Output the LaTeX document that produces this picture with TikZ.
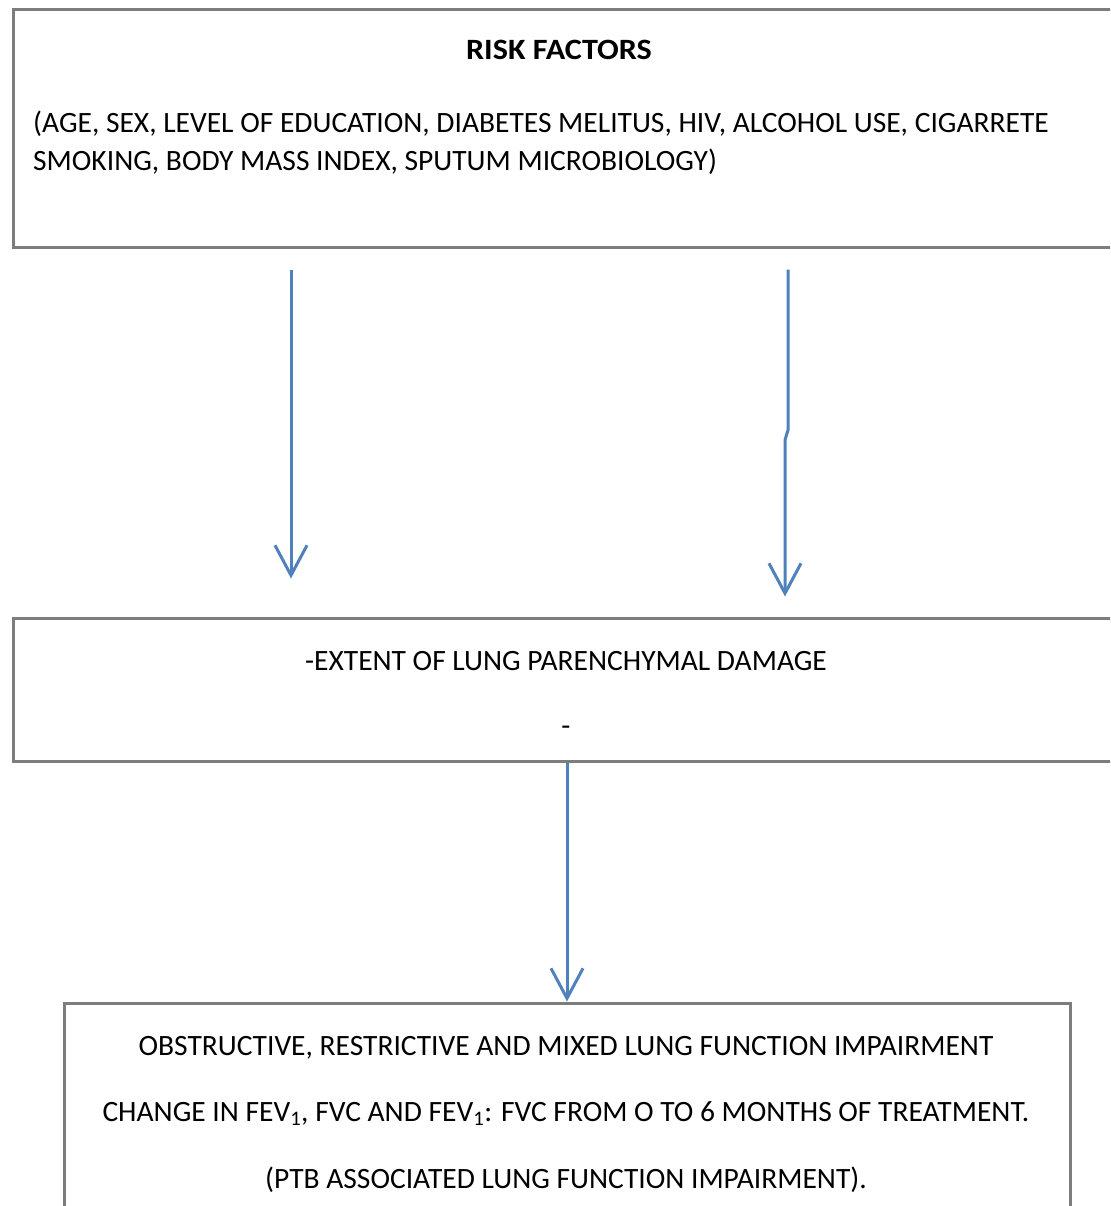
\documentclass[tikz,border=0pt]{standalone}
\usepackage{fontspec}
\setmainfont{Carlito}
\usetikzlibrary{arrows.meta}
\definecolor{boxgray}{RGB}{125,125,125}
\definecolor{arrblue}{RGB}{79,129,189}
\begin{document}
\begin{tikzpicture}[x=1pt,y=-1pt,
  box/.style={draw=boxgray, line width=3pt, fill=white, inner sep=0pt},
  txt/.style={inner sep=0pt, font=\fontsize{29.5}{34}\selectfont},
  arr/.style={draw=arrblue, line width=3pt, -{Straight Barb[length=30pt,width=32pt,line width=3pt]}}]
\useasboundingbox (0,0) rectangle (1110,1206);
\clip (0,0) rectangle (1110,1206);
\fill[white] (0,0) rectangle (1110,1206);
% boxes
\node[box, minimum width=1112pt, minimum height=237pt] (top) at (569,128.5) {};
\node[box, minimum width=1112pt, minimum height=143pt] (mid) at (569,689.5) {};
\node[box, minimum width=1006pt, minimum height=227pt] (bot) at (567,1116.5) {};
% texts
\node[txt, anchor=base, font=\fontsize{29.5}{34}\selectfont\bfseries] (t1) at (559,60) {\scalebox{1.09}[1]{RISK FACTORS}};
\node[txt, anchor=base west] (t2) at (33,133) {(AGE, SEX, LEVEL OF EDUCATION, DIABETES MELITUS, HIV, ALCOHOL USE, CIGARRETE};
\node[txt, anchor=base west] (t3) at (33,171) {SMOKING, BODY MASS INDEX, SPUTUM MICROBIOLOGY)};
\node[txt, anchor=base] (m1) at (566,670) {-EXTENT OF LUNG PARENCHYMAL DAMAGE};
\node[txt, anchor=base] (m2) at (566,735) {-};
\node[txt, anchor=base] (b1) at (566,1055) {OBSTRUCTIVE, RESTRICTIVE AND MIXED LUNG FUNCTION IMPAIRMENT};
\node[txt, anchor=base] (b2) at (566,1121) {CHANGE IN FEV\textsubscript{1}, FVC AND FEV\textsubscript{1}: FVC FROM O TO 6 MONTHS OF TREATMENT.};
\node[txt, anchor=base] (b3) at (566,1188) {(PTB ASSOCIATED LUNG FUNCTION IMPAIRMENT).};
% arrows
\coordinate (L) at (291,0);
\coordinate (R) at (788,0);
\coordinate (C) at (567,0);
\coordinate (Rk) at (788,430);
\coordinate (Rk2) at (785,440);
\draw[arr, shorten <=21pt, shorten >=38pt] (top.south -| L) -- (mid.north -| L);
\draw[arr, shorten >=20pt] ([yshift=-21pt]top.south -| R) -- (Rk) -- (Rk2) -- (mid.north -| Rk2);
\draw[arr] (mid.south -| C) -- (bot.north -| C);
\end{tikzpicture}
\end{document}
